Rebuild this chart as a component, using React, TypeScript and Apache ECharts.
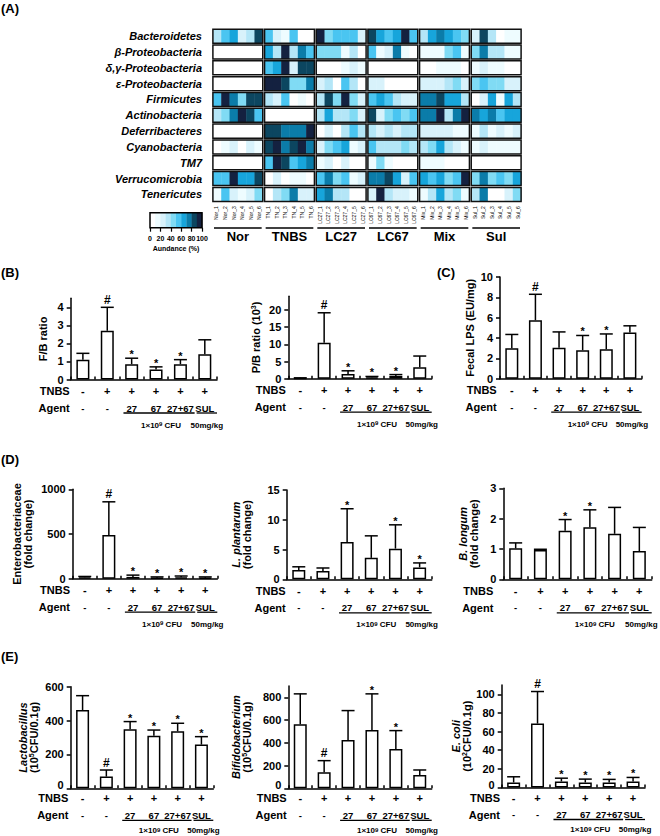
import React, { useEffect, useRef } from "react";
import * as echarts from "echarts";

const FONT = '"Liberation Sans", Arial, Helvetica, sans-serif';

// ---------- Panel A : heat map ----------
const phyla = [
  "Bacteroidetes",
  "β-Proteobacteria",
  "δ,γ-Proteobacteria",
  "ε-Proteobacteria",
  "Firmicutes",
  "Actinobacteria",
  "Deferribacteres",
  "Cyanobacteria",
  "TM7",
  "Verrucomicrobia",
  "Tenericutes",
];
const groupNames = ["Nor", "TNBS", "LC27", "LC67", "Mix", "Sul"];
const samplePrefixes = ["Nor", "TN", "LC27", "LC67", "Mix", "Sul"];
const replicates = [1, 2, 3, 4, 5, 6];
const sampleNames = samplePrefixes.flatMap((p) => replicates.map((i) => `${p}_${i}`));

// relative abundance (%) per sample: Nor | TNBS | LC27 | LC67 | Mix | Sul
const abBacteroidetes = [35, 55, 65, 25, 35, 85, 55, 25, 15, 55, 0, 0, 95, 45, 55, 55, 55, 25, 85, 65, 55, 65, 95, 55, 35, 65, 75, 65, 55, 45, 25, 85, 35, 0, 15, 15];
const abBetaProteo = [0, 0, 0, 0, 0, 0, 65, 35, 95, 35, 75, 55, 45, 45, 45, 15, 35, 0, 55, 15, 25, 75, 15, 0, 15, 15, 15, 45, 55, 15, 45, 75, 35, 35, 15, 15];
const abDeltaGammaProteo = [0, 0, 0, 0, 0, 0, 55, 65, 95, 25, 85, 85, 0, 0, 0, 15, 25, 15, 0, 0, 0, 0, 0, 0, 0, 0, 15, 15, 15, 0, 15, 25, 15, 15, 0, 0];
const abEpsilonProteo = [0, 0, 0, 0, 0, 0, 95, 95, 85, 45, 45, 75, 25, 35, 0, 55, 35, 0, 25, 25, 0, 0, 0, 0, 25, 25, 25, 35, 45, 25, 45, 55, 45, 45, 25, 25];
const abFirmicutes = [55, 95, 75, 45, 85, 85, 35, 25, 55, 0, 15, 0, 35, 85, 45, 95, 45, 25, 55, 65, 55, 35, 25, 25, 75, 75, 85, 65, 65, 35, 0, 25, 65, 15, 65, 35];
const abActinobacteria = [35, 45, 75, 95, 85, 55, 0, 0, 0, 0, 0, 0, 35, 65, 35, 35, 45, 25, 85, 25, 45, 55, 45, 55, 75, 75, 95, 35, 75, 95, 75, 65, 75, 55, 65, 65];
const abDeferribacteres = [0, 0, 0, 0, 0, 0, 85, 85, 75, 75, 75, 95, 0, 25, 0, 35, 55, 35, 35, 25, 35, 25, 35, 35, 25, 25, 25, 25, 15, 15, 15, 35, 15, 25, 15, 25];
const abCyanobacteria = [0, 15, 25, 0, 25, 15, 85, 95, 75, 85, 95, 75, 25, 45, 55, 65, 15, 25, 55, 35, 35, 35, 45, 35, 35, 45, 65, 35, 25, 15, 15, 25, 15, 15, 15, 15];
const abTM7 = [0, 0, 0, 0, 0, 0, 55, 95, 85, 55, 65, 75, 15, 25, 0, 25, 0, 0, 15, 45, 15, 0, 0, 0, 15, 15, 15, 0, 0, 0, 0, 0, 0, 0, 0, 0];
const abVerrucomicrobia = [55, 55, 95, 65, 65, 85, 0, 25, 0, 15, 15, 0, 55, 75, 45, 55, 15, 25, 75, 75, 85, 65, 25, 55, 65, 55, 65, 45, 55, 95, 45, 75, 45, 55, 45, 65];
const abTenericutes = [15, 55, 25, 15, 25, 45, 0, 35, 45, 75, 25, 25, 65, 75, 35, 35, 0, 0, 25, 95, 35, 25, 25, 15, 15, 35, 65, 35, 45, 15, 35, 75, 0, 0, 25, 45];
const abundanceRows = [
  abBacteroidetes, abBetaProteo, abDeltaGammaProteo, abEpsilonProteo, abFirmicutes,
  abActinobacteria, abDeferribacteres, abCyanobacteria, abTM7, abVerrucomicrobia, abTenericutes,
];
const legendMin = 0;
const legendMax = 100;
const legendStep = 20;
const legendTitle = "Aundance (%)";

// ---------- Panels B–E : bar charts ----------
const treatments = ["Nor", "TNBS", "LC27", "LC67", "LC27+LC67", "SUL"];
const tnbsRow = ["-", "+", "+", "+", "+", "+"];
const agentRow = ["-", "-", "27", "67", "27+67", "SUL"];
const rowTitles = ["TNBS", "Agent"];
const doseProbiotic = "1×10{sup|9} CFU";
const doseSul = "50mg/kg";

const fbMean = [1.1, 2.7, 0.85, 0.55, 0.85, 1.4];
const fbSd = [0.35, 1.3, 0.33, 0.15, 0.25, 0.8];
const fbMarks = ["", "#", "*", "*", "*", ""];
const fbTicks = [0, 1, 2, 3, 4];

const pbMean = [0.15, 10.5, 1.4, 0.4, 0.8, 3.3];
const pbSd = [0.1, 8.7, 0.9, 0.25, 0.4, 3.3];
const pbMarks = ["", "#", "*", "*", "*", ""];
const pbTicks = [0, 5, 10, 15, 20];

const lpsMean = [3.0, 5.75, 3.05, 2.8, 2.9, 4.55];
const lpsSd = [1.35, 2.55, 1.55, 1.45, 1.5, 0.65];
const lpsMarks = ["", "#", "", "*", "*", ""];
const lpsTicks = [0, 2, 4, 6, 8, 10];

const enteroMean = [15, 490, 20, 10, 15, 10];
const enteroSd = [10, 370, 20, 10, 15, 10];
const enteroMarks = ["", "#", "*", "*", "*", "*"];
const enteroTicks = [0, 500, 1000];

const lpMean = [1.55, 1.4, 6.25, 3.6, 5.15, 2.0];
const lpSd = [0.55, 0.5, 5.6, 3.7, 4.0, 0.75];
const lpMarks = ["", "", "*", "", "*", "*"];
const lpTicks = [0, 5, 10, 15];

const blMean = [1.02, 0.97, 1.6, 1.72, 1.5, 0.93];
const blSd = [0.18, 0.02, 0.37, 0.57, 0.87, 0.78];
const blMarks = ["", "", "*", "*", "", ""];
const blTicks = [0, 1, 2, 3];

const lactoMean = [462, 69, 348, 311, 337, 258];
const lactoSd = [85, 39, 46, 33, 47, 47];
const lactoMarks = ["", "#", "*", "*", "*", "*"];
const lactoTicks = [0, 200, 400, 600];

const bifidoMean = [563, 141, 425, 513, 346, 117];
const bifidoSd = [267, 102, 258, 317, 161, 44];
const bifidoMarks = ["", "#", "", "*", "*", ""];
const bifidoTicks = [0, 200, 400, 600, 800];

const ecoliMean = [5.4, 68.6, 6.5, 5.4, 5.4, 6.5];
const ecoliSd = [6.1, 34.4, 3.5, 3.6, 3.3, 4.3];
const ecoliMarks = ["", "#", "*", "*", "*", "*"];
const ecoliTicks = [0, 20, 40, 60, 80, 100];

const barPanels = [
  { mean: fbMean, sd: fbSd, marks: fbMarks, ticks: fbTicks, max: 4.5, name: "F/B ratio" },
  { mean: pbMean, sd: pbSd, marks: pbMarks, ticks: pbTicks, max: 24, name: "P/B ratio (10{sup|3})" },
  { mean: lpsMean, sd: lpsSd, marks: lpsMarks, ticks: lpsTicks, max: 10, name: "Fecal LPS (EU/mg)" },
  { mean: enteroMean, sd: enteroSd, marks: enteroMarks, ticks: enteroTicks, max: 1000, name: "Enterobacteriaceae\n(fold change)" },
  { mean: lpMean, sd: lpSd, marks: lpMarks, ticks: lpTicks, max: 15, name: "{i|L. plantarum}\n(fold change)" },
  { mean: blMean, sd: blSd, marks: blMarks, ticks: blTicks, max: 3, name: "{i|B. longum}\n(fold change)" },
  { mean: lactoMean, sd: lactoSd, marks: lactoMarks, ticks: lactoTicks, max: 600, name: "{i|Lactobacillus}\n(10{sup|5}CFU/0.1g)" },
  { mean: bifidoMean, sd: bifidoSd, marks: bifidoMarks, ticks: bifidoTicks, max: 900, name: "{i|Bifidobacterium}\n(10{sup|5}CFU/0.1g)" },
  { mean: ecoliMean, sd: ecoliSd, marks: ecoliMarks, ticks: ecoliTicks, max: 110, name: "{i|E. coli}\n(10{sup|2}CFU/0.1g)" },
];

// layout (positions only); zeroLift raises the "0" tick label where the row titles sit close
const barLayouts = [
  { left: 70.7, top: 298.3, width: 146.3, height: 81.2, nameGap: 22, titleGap: 1, dy: 0, cfuY: 45.5, zeroLift: 0 },
  { left: 288.3, top: 296.3, width: 143.4, height: 82.4, nameGap: 27, titleGap: 2.5, dy: 0, cfuY: 45.5, zeroLift: 0 },
  { left: 500, top: 277, width: 141.7, height: 101.7, nameGap: 24.5, titleGap: 3.3, dy: 0, cfuY: 45.5, zeroLift: 0 },
  { left: 72.7, top: 489.3, width: 144.6, height: 89.4, nameGap: 39, titleGap: 2.7, dy: 0, cfuY: 45.5, zeroLift: 0 },
  { left: 286.7, top: 490, width: 145, height: 89.3, nameGap: 34.5, titleGap: 1, dy: 0, cfuY: 45.5, zeroLift: 0 },
  { left: 503.3, top: 488.3, width: 148.4, height: 91, nameGap: 24, titleGap: 10, dy: 0, cfuY: 45.5, zeroLift: 0 },
  { left: 70.7, top: 686.7, width: 142.6, height: 101.6, nameGap: 31.7, titleGap: 2.4, dy: -1.5, cfuY: 43.8, zeroLift: 3 },
  { left: 288.3, top: 685.9, width: 143.4, height: 102.4, nameGap: 36, titleGap: 1.6, dy: -1.5, cfuY: 43.8, zeroLift: 3 },
  { left: 501.7, top: 685, width: 143.3, height: 102.5, nameGap: 29.7, titleGap: 1.7, dy: -1.5, cfuY: 43.8, zeroLift: 3 },
];

const panelLabels = [
  { text: "(A)", left: 1, top: 2 },
  { text: "(B)", left: 1, top: 266 },
  { text: "(C)", left: 437, top: 266 },
  { text: "(D)", left: 1, top: 453 },
  { text: "(E)", left: 1, top: 650 },
];

const PALETTE = ["#FFFFFF", "#EEFCFF", "#D8F2FB", "#B4E6F7", "#80DBF4", "#4AC5F1", "#17A5DB", "#0B7CA9", "#0C4660", "#142140"];
const levelColor = (v: number) => PALETTE[Math.max(0, Math.min(9, Math.floor(v / 10)))];

const supRich = {
  sup: { fontSize: 6, fontWeight: "bold", fontFamily: FONT, color: "#000", verticalAlign: "top", lineHeight: 7 },
};

function buildOption() {
  const grids: any[] = [];
  const xAxes: any[] = [];
  const yAxes: any[] = [];
  const series: any[] = [];

  // ---- heat map ----
  grids.push({ left: 212, top: 28.3, width: 310, height: 174 });
  xAxes.push({
    gridIndex: 0,
    type: "category",
    data: sampleNames,
    axisLine: { show: false },
    axisTick: { show: false },
    axisLabel: { interval: 0, rotate: 90, fontSize: 5, margin: 4, color: "#000", fontFamily: FONT },
  });
  yAxes.push({
    gridIndex: 0,
    type: "category",
    data: phyla,
    inverse: true,
    axisLine: { show: false },
    axisTick: { show: false },
    axisLabel: { fontSize: 11, fontWeight: "bold", fontStyle: "italic", color: "#000", margin: 10, fontFamily: FONT },
  });
  const heatData: number[][] = [];
  abundanceRows.forEach((row, r) => {
    groupNames.forEach((_, g) => {
      heatData.push([g * 6, r, ...row.slice(g * 6, g * 6 + 6)]);
    });
  });
  series.push({
    type: "custom",
    xAxisIndex: 0,
    yAxisIndex: 0,
    silent: true,
    data: heatData,
    renderItem: (params: any, api: any) => {
      const c = api.value(0) as number;
      const r = api.value(1) as number;
      const sz = api.size([1, 1]) as number[];
      const ctr = api.coord([c, r]);
      const left = ctr[0] - sz[0] / 2;
      const top = ctr[1] - sz[1] / 2;
      const w = sz[0] * 6;
      const h = sz[1];
      const ins = 0.9;
      const cw = (w - 2 * ins) / 6;
      const children: any[] = [];
      for (let k = 0; k < 6; k++) {
        children.push({
          type: "rect",
          shape: { x: left + ins + k * cw, y: top + ins, width: cw + 0.4, height: h - 2 * ins },
          style: { fill: levelColor(api.value(2 + k) as number) },
        });
      }
      children.push({
        type: "rect",
        shape: { x: left + ins, y: top + ins, width: w - 2 * ins, height: h - 2 * ins },
        style: { fill: "none", stroke: "#111", lineWidth: 1.5 },
      });
      if (r === phyla.length - 1) {
        const bottom = top + h;
        children.push({
          type: "line",
          shape: { x1: left + 2, y1: bottom + 25.7, x2: left + w - 2, y2: bottom + 25.7 },
          style: { stroke: "#000", lineWidth: 1.7 },
        });
        children.push({
          type: "text",
          x: left + w / 2,
          y: bottom + 34.5,
          style: {
            text: groupNames[Math.round(c / 6)],
            align: "center",
            verticalAlign: "middle",
            fontSize: 13,
            fontWeight: "bold",
            fontFamily: FONT,
            fill: "#000",
          },
        });
      }
      return { type: "group", children };
    },
  });

  // ---- colour bar ----
  grids.push({ left: 150, top: 212.7, width: 52, height: 15 });
  xAxes.push({
    gridIndex: 1,
    type: "value",
    min: legendMin,
    max: legendMax,
    interval: legendStep,
    axisLine: { show: false },
    axisTick: { show: true, length: 4, lineStyle: { color: "#000", width: 1.2 } },
    axisLabel: { fontSize: 7, fontWeight: "bold", margin: 7, color: "#000", fontFamily: FONT },
    splitLine: { show: false },
    name: legendTitle,
    nameLocation: "middle",
    nameGap: 17.5,
    nameTextStyle: { fontSize: 7, fontWeight: "bold", color: "#000", fontFamily: FONT },
  });
  yAxes.push({ gridIndex: 1, type: "value", min: 0, max: 1, show: false });
  const nBands = PALETTE.length;
  const bandData = PALETTE.map((_, i) => [
    legendMin + ((legendMax - legendMin) * i) / nBands,
    legendMin + ((legendMax - legendMin) * (i + 1)) / nBands,
  ]);
  series.push({
    type: "custom",
    xAxisIndex: 1,
    yAxisIndex: 1,
    silent: true,
    data: bandData,
    encode: { x: [0, 1] },
    renderItem: (params: any, api: any) => {
      const p0 = api.coord([api.value(0), 1]);
      const p1 = api.coord([api.value(1), 0]);
      const children: any[] = [
        {
          type: "rect",
          shape: { x: p0[0], y: p0[1], width: p1[0] - p0[0] + 0.3, height: p1[1] - p0[1] },
          style: { fill: PALETTE[params.dataIndex] },
        },
      ];
      if (params.dataIndex === nBands - 1) {
        const a = api.coord([legendMin, 1]);
        const b = api.coord([legendMax, 0]);
        children.push({
          type: "rect",
          shape: { x: a[0], y: a[1], width: b[0] - a[0], height: b[1] - a[1] },
          style: { fill: "none", stroke: "#000", lineWidth: 1.5 },
        });
      }
      return { type: "group", children };
    },
  });

  // ---- bar charts ----
  barPanels.forEach((p, j) => {
    const L = barLayouts[j];
    const gi = 2 + j;
    grids.push({ left: L.left, top: L.top, width: L.width, height: L.height });
    xAxes.push({
      gridIndex: gi,
      type: "category",
      data: treatments,
      axisLine: { show: true, lineStyle: { color: "#000", width: 1.5 } },
      axisTick: { show: true, inside: true, length: 3, lineStyle: { color: "#000", width: 1.5 } },
      axisLabel: {
        interval: 0,
        margin: 3 + L.dy,
        color: "#000",
        formatter: (_v: string, idx: number) => `{s|${tnbsRow[idx]}}\n{a|${agentRow[idx]}}`,
        rich: {
          s: { fontSize: 11, fontWeight: "bold", fontFamily: FONT, color: "#000", lineHeight: 17 },
          a: { fontSize: 9.5, fontWeight: "bold", fontFamily: FONT, color: "#000", lineHeight: 17 },
        },
      },
      splitLine: { show: false },
    });
    // tick labels drawn by the axis; a lifted zero label (if any) is drawn by the annotation series below
    const axisLabelValues = L.zeroLift ? p.ticks.filter((t) => t !== 0) : p.ticks;
    yAxes.push({
      gridIndex: gi,
      type: "value",
      min: 0,
      max: p.max,
      axisLine: { show: true, lineStyle: { color: "#000", width: 1.5 } },
      axisTick: { show: true, length: 4, lineStyle: { color: "#000", width: 1.5 }, customValues: p.ticks },
      axisLabel: {
        customValues: axisLabelValues,
        formatter: (v: number) => String(v),
        fontSize: 11,
        fontWeight: "bold",
        color: "#000",
        margin: 7,
        lineHeight: 10,
        fontFamily: FONT,
      },
      splitLine: { show: false },
      name: p.name,
      nameLocation: "middle",
      nameRotate: 90,
      nameGap: L.nameGap,
      nameTextStyle: {
        fontSize: 11,
        fontWeight: "bold",
        color: "#000",
        fontFamily: FONT,
        lineHeight: 11,
        rich: {
          i: { fontSize: 11, fontWeight: "bold", fontStyle: "italic", color: "#000", fontFamily: FONT, lineHeight: 11 },
          sup: { fontSize: 7, fontWeight: "bold", color: "#000", fontFamily: FONT, verticalAlign: "top", lineHeight: 7 },
        },
      },
    });
    series.push({
      type: "bar",
      xAxisIndex: gi,
      yAxisIndex: gi,
      silent: true,
      data: p.mean,
      barWidth: 13,
      itemStyle: { color: "#fff", borderColor: "#000", borderWidth: 1.5 },
    });
    const marks = p.marks;
    series.push({
      type: "custom",
      xAxisIndex: gi,
      yAxisIndex: gi,
      silent: true,
      z: 5,
      data: p.mean.map((m, i) => [i, m, m + p.sd[i]]),
      renderItem: (params: any, api: any) => {
        const i = api.value(0);
        const p0 = api.coord([i, api.value(1)]);
        const p1 = api.coord([i, api.value(2)]);
        const half = 6.5;
        const children: any[] = [
          { type: "line", shape: { x1: p0[0], y1: p0[1], x2: p1[0], y2: p1[1] }, style: { stroke: "#000", lineWidth: 1.5 } },
          { type: "line", shape: { x1: p1[0] - half, y1: p1[1], x2: p1[0] + half, y2: p1[1] }, style: { stroke: "#000", lineWidth: 1.5 } },
        ];
        const mk = marks[params.dataIndex];
        if (mk) {
          const isHash = mk === "#";
          children.push({
            type: "text",
            x: p1[0],
            y: isHash ? p1[1] - 1.5 : p1[1] + 1.5,
            style: {
              text: mk,
              align: "center",
              verticalAlign: "bottom",
              fontSize: isHash ? 12 : 11,
              fontWeight: "bold",
              fontFamily: FONT,
              fill: "#000",
            },
          });
        }
        return { type: "group", children };
      },
    });
    series.push({
      type: "custom",
      xAxisIndex: gi,
      yAxisIndex: gi,
      silent: true,
      data: [[0, 0]],
      renderItem: (params: any, api: any) => {
        const bw = (api.size([1, 0]) as number[])[0];
        const c = (k: number) => api.coord([k, 0]);
        const zeroY = c(0)[1];
        const axisY = zeroY + L.dy;
        const left = c(0)[0] - bw / 2;
        const cat2L = c(2)[0] - bw / 2;
        const cat4R = c(4)[0] + bw / 2;
        const cat5L = c(5)[0] - bw / 2;
        const cat5R = c(5)[0] + bw / 2;
        const tx = left - L.titleGap;
        const txt = (text: string, x: number, y: number, align: string, size: number, rich?: any) => {
          const style: any = {
            text,
            align,
            verticalAlign: "middle",
            fontSize: size,
            fontWeight: "bold",
            fontFamily: FONT,
            fill: "#000",
            lineHeight: size,
          };
          if (rich) style.rich = rich;
          return { type: "text", x, y, style };
        };
        const ln = (x1: number, x2: number, y: number) => ({
          type: "line",
          shape: { x1, y1: y, x2, y2: y },
          style: { stroke: "#000", lineWidth: 1.3 },
        });
        const children: any[] = [
          txt(rowTitles[0], tx, axisY + 11.5, "right", 11),
          txt(rowTitles[1], tx, axisY + 28.5, "right", 11),
          ln(cat2L + 4, cat4R + 2, axisY + 33.5),
          ln(cat5L + 4, cat5R, axisY + 33.5),
          txt(doseProbiotic, (cat2L + 4 + cat4R + 2) / 2 + 2, axisY + L.cfuY, "center", 8, supRich),
          txt(doseSul, (cat5L + cat5R) / 2 + 2, axisY + L.cfuY, "center", 8),
        ];
        if (L.zeroLift) {
          children.push(txt(String(p.ticks[0]), left - 7, zeroY - L.zeroLift, "right", 11));
        }
        return { type: "group", children };
      },
    });
  });

  return {
    animation: false,
    backgroundColor: "#fff",
    textStyle: { fontFamily: FONT },
    grid: grids,
    xAxis: xAxes,
    yAxis: yAxes,
    series,
    graphic: panelLabels.map((l) => ({
      type: "text",
      left: l.left,
      top: l.top,
      style: { text: l.text, fontSize: 13, fontWeight: "bold", fontFamily: FONT, fill: "#000" },
    })),
  };
}

export default function App() {
  const ref = useRef<HTMLDivElement>(null);
  useEffect(() => {
    if (!ref.current) return;
    const chart = echarts.init(ref.current, undefined, { renderer: "svg", width: 660, height: 836 });
    chart.setOption(buildOption() as any);
    return () => chart.dispose();
  }, []);
  return (
    <div
      ref={ref}
      style={{ position: "fixed", left: 0, top: 0, width: 660, height: 836, background: "#fff" }}
    />
  );
}
